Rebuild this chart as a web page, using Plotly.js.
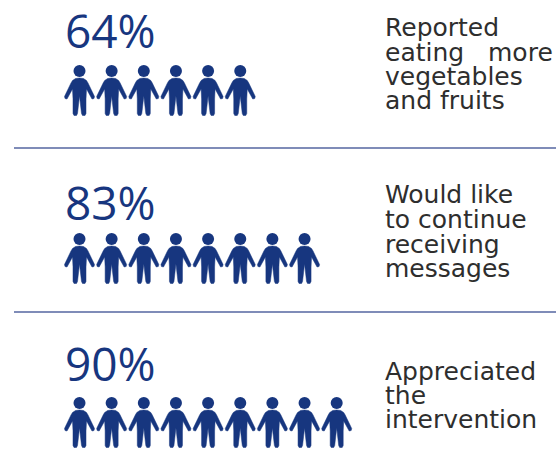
<!DOCTYPE html>
<html>
<head>
<meta charset="utf-8">
<script src="https://cdn.plot.ly/plotly-3.0.1.min.js"></script>
<style>html,body{margin:0;padding:0;background:#fff}#chart{width:556px;height:471px}</style>
</head>
<body>
<div id="chart"></div>
<script>
// Survey results: one row per statement
const percentages = ["64%", "83%", "90%"];
const peopleCounts = [6, 8, 9];
const statements = [
  ["Reported", "eating\u00a0\u00a0\u00a0more", "vegetables", "and fruits"],
  ["Would like", "to continue", "receiving", "messages"],
  ["Appreciated", "the", "intervention"]
];

// Page layout, in pixels from the top of the page
const rowLayout = [
  {percentY: 30, headY: 71, lineYs: [27, 52, 76, 100]},
  {percentY: 202, headY: 239, lineYs: [194, 219, 244, 268]},
  {percentY: 363, headY: 403, lineYs: [371, 395, 419]}
];
const dividerYs = [148, 312];
const W = 556, H = 471;
const firstPersonX = 79.5, personStep = 32.15;
const NAVY = "#17367f", TEXT = "#2e2e2e";

// Body outline in pixels around the head centre (positive is upward)
const halfBody = [[0, -7], [4, -7.5], [7, -9.5], [8.5, -12], [15, -25.5], [14.5, -27.5], [12.5, -28],
  [7, -18], [6.5, -28], [6.5, -42.5], [5.5, -44.5], [3, -44.5], [2, -42.5], [0, -25]];
const bodyPath = () => {
  const right = halfBody.map(p => p[0] + "," + p[1]);
  const left = halfBody.slice(1, -1).reverse().map(p => (-p[0]) + "," + p[1]);
  return "M" + right.concat(left).join(" L") + " Z";
};

const traces = [], shapes = [], annotations = [];

percentages.forEach((pct, r) => {
  const xs = Array.from({length: peopleCounts[r]}, (_, i) => i);
  const ys = xs.map(() => rowLayout[r].headY);
  traces.push({
    type: "scatter", mode: "markers", x: xs, y: ys, name: pct,
    marker: {symbol: "circle", size: 12, color: NAVY},
    hoverinfo: "name", showlegend: false
  });
  xs.forEach((x, k) => shapes.push({
    type: "path", layer: "below",
    xref: "x", yref: "y", xsizemode: "pixel", ysizemode: "pixel",
    xanchor: x, yanchor: ys[k], path: bodyPath(),
    fillcolor: NAVY, line: {color: NAVY, width: 0.5}
  }));
  annotations.push({
    xref: "paper", yref: "y", x: 63 / W, y: rowLayout[r].percentY,
    xanchor: "left", yanchor: "middle", showarrow: false, text: pct,
    font: {family: "Open Sans", size: 46, color: NAVY}
  });
  statements[r].forEach((line, j) => annotations.push({
    xref: "paper", yref: "y", x: 383 / W, y: rowLayout[r].lineYs[j],
    xanchor: "left", yanchor: "middle", showarrow: false, text: line,
    font: {family: "DejaVu Sans", size: 25, color: TEXT}
  }));
});

dividerYs.forEach(y => shapes.push({
  type: "line", xref: "paper", yref: "y", x0: 14 / W, x1: 1, y0: y, y1: y,
  line: {color: "#7f8cb8", width: 2}
}));

const hiddenAxis = {visible: false, showgrid: false, zeroline: false, fixedrange: true};
Plotly.newPlot("chart", traces, {
  width: W, height: H,
  margin: {l: 0, r: 0, t: 0, b: 0},
  paper_bgcolor: "#fff", plot_bgcolor: "#fff",
  xaxis: Object.assign({}, hiddenAxis, {range: [-firstPersonX / personStep, (W - firstPersonX) / personStep]}),
  yaxis: Object.assign({}, hiddenAxis, {range: [H, 0]}),
  shapes, annotations, showlegend: false
}, {displayModeBar: false, staticPlot: true});
</script>
</body>
</html>
